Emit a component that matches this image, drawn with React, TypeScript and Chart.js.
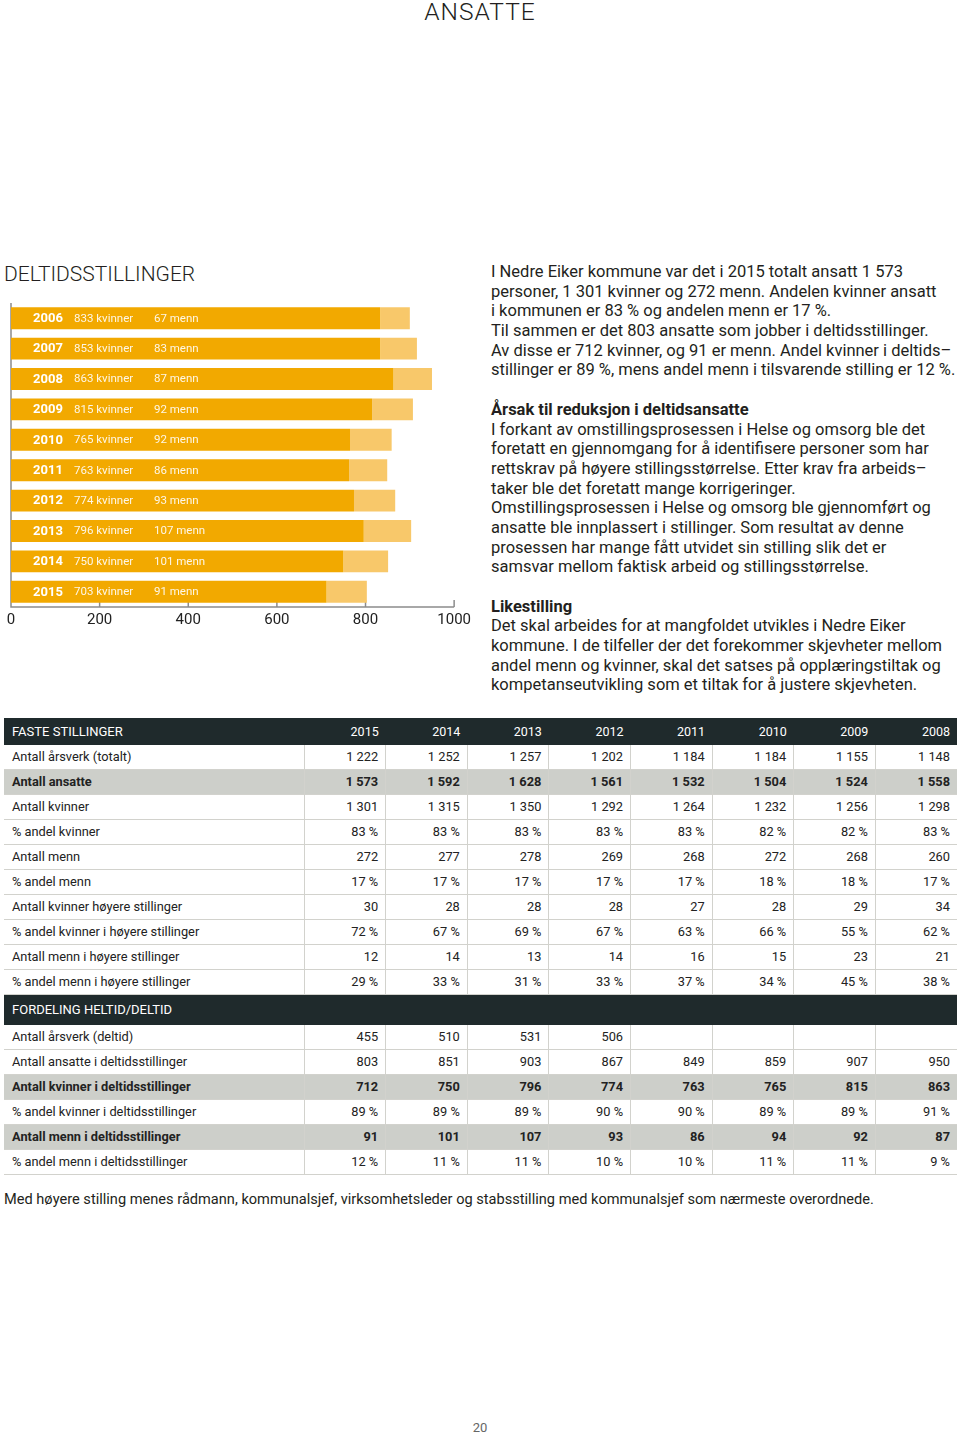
import React, { useEffect, useRef } from 'react';
import { Chart, registerables } from 'chart.js';

Chart.register(...registerables);

// ---------- Chart data ----------
const chartYears = ['2006', '2007', '2008', '2009', '2010', '2011', '2012', '2013', '2014', '2015'];
const womenBar = [833, 833, 863, 815, 765, 763, 774, 796, 750, 712];
const menBar = [67, 83, 87, 92, 94, 86, 93, 107, 101, 91];
const womenLabel = ['833', '853', '863', '815', '765', '763', '774', '796', '750', '703'];
const menLabel = ['67', '83', '87', '92', '92', '86', '93', '107', '101', '91'];
const axisTicks = [200, 400, 600, 800, 1000];

// ---------- Table data ----------
const tableYears = ['2015', '2014', '2013', '2012', '2011', '2010', '2009', '2008'];
const arsverkTotalt = ['1 222', '1 252', '1 257', '1 202', '1 184', '1 184', '1 155', '1 148'];
const antallAnsatte = ['1 573', '1 592', '1 628', '1 561', '1 532', '1 504', '1 524', '1 558'];
const antallKvinner = ['1 301', '1 315', '1 350', '1 292', '1 264', '1 232', '1 256', '1 298'];
const andelKvinner = ['83 %', '83 %', '83 %', '83 %', '83 %', '82 %', '82 %', '83 %'];
const antallMenn = ['272', '277', '278', '269', '268', '272', '268', '260'];
const andelMenn = ['17 %', '17 %', '17 %', '17 %', '17 %', '18 %', '18 %', '17 %'];
const kvinnerHoyere = ['30', '28', '28', '28', '27', '28', '29', '34'];
const andelKvinnerHoyere = ['72 %', '67 %', '69 %', '67 %', '63 %', '66 %', '55 %', '62 %'];
const mennHoyere = ['12', '14', '13', '14', '16', '15', '23', '21'];
const andelMennHoyere = ['29 %', '33 %', '31 %', '33 %', '37 %', '34 %', '45 %', '38 %'];
const arsverkDeltid = ['455', '510', '531', '506', '', '', '', ''];
const ansatteDeltid = ['803', '851', '903', '867', '849', '859', '907', '950'];
const kvinnerDeltid = ['712', '750', '796', '774', '763', '765', '815', '863'];
const andelKvinnerDeltid = ['89 %', '89 %', '89 %', '90 %', '90 %', '89 %', '89 %', '91 %'];
const mennDeltid = ['91', '101', '107', '93', '86', '94', '92', '87'];
const andelMennDeltid = ['12 %', '11 %', '11 %', '10 %', '10 %', '11 %', '11 %', '9 %'];

const FONT = 'Roboto, "Noto Sans", sans-serif';
const WOMEN_COLOR = '#F2A900';
const MEN_COLOR = '#F8C86A';
const AXIS_COLOR = '#8c8c8c';

function BarChart() {
  const ref = useRef<HTMLCanvasElement | null>(null);
  useEffect(() => {
    if (!ref.current) return;
    const decor = {
      id: 'decor',
      beforeDatasetsDraw(chart: any) {
        const { ctx, chartArea, scales } = chart;
        const x = scales.x;
        ctx.save();
        ctx.strokeStyle = AXIS_COLOR;
        ctx.lineWidth = 1.5;
        ctx.beginPath();
        ctx.moveTo(chartArea.left, chartArea.top);
        ctx.lineTo(chartArea.left, chartArea.bottom);
        ctx.lineTo(x.getPixelForValue(1000), chartArea.bottom);
        ctx.stroke();
        axisTicks.forEach((v) => {
          const px = x.getPixelForValue(v);
          ctx.beginPath();
          ctx.moveTo(px, chartArea.bottom);
          ctx.lineTo(px, chartArea.bottom - 7);
          ctx.stroke();
        });
        ctx.restore();
      },
      afterDatasetsDraw(chart: any) {
        const { ctx, chartArea, scales } = chart;
        const y = scales.y;
        ctx.save();
        ctx.textBaseline = 'middle';
        ctx.textAlign = 'left';
        chartYears.forEach((yr, i) => {
          const py = y.getPixelForValue(i) + 0.5;
          ctx.fillStyle = '#ffffff';
          ctx.font = `bold 13px ${FONT}`;
          ctx.fillText(yr, chartArea.left + 22, py);
          ctx.fillStyle = 'rgba(255,255,255,0.9)';
          ctx.font = `11.5px ${FONT}`;
          ctx.fillText(`${womenLabel[i]} kvinner`, chartArea.left + 63, py);
          ctx.fillText(`${menLabel[i]} menn`, chartArea.left + 143, py);
        });
        ctx.restore();
      },
    };
    const chart = new Chart(ref.current, {
      type: 'bar',
      data: {
        labels: chartYears,
        datasets: [
          { label: 'Kvinner', data: womenBar, backgroundColor: WOMEN_COLOR, borderWidth: 0, barPercentage: 0.72, categoryPercentage: 1 },
          { label: 'Menn', data: menBar, backgroundColor: MEN_COLOR, borderWidth: 0, barPercentage: 0.72, categoryPercentage: 1 },
        ],
      },
      options: {
        indexAxis: 'y',
        responsive: false,
        maintainAspectRatio: false,
        animation: false,
        layout: { padding: { left: 11, right: 20, top: 13, bottom: 0 } },
        plugins: { legend: { display: false }, tooltip: { enabled: false } },
        scales: {
          x: {
            stacked: true,
            min: 0,
            max: 1000,
            ticks: {
              stepSize: 200,
              padding: 4,
              color: '#222',
              font: { family: FONT, size: 15 },
              callback: (v: any) => String(v),
            },
            grid: { display: false, drawTicks: false },
            border: { display: false },
            afterFit: (s: any) => { s.height = 23; },
          },
          y: { stacked: true, display: false },
        },
      },
      plugins: [decor],
    } as any);
    return () => chart.destroy();
  }, []);
  return (
    <canvas
      ref={ref}
      width={475}
      height={340}
      style={{ position: 'absolute', left: 0, top: 290, width: 475, height: 340 }}
    />
  );
}

const textLines: { t: string; b?: boolean }[] = [
  { t: 'I Nedre Eiker kommune var det i 2015 totalt ansatt 1 573' },
  { t: 'personer, 1 301 kvinner og 272 menn. Andelen kvinner ansatt' },
  { t: 'i kommunen er 83 % og andelen menn er 17 %.' },
  { t: 'Til sammen er det 803 ansatte som jobber i deltidsstillinger.' },
  { t: 'Av disse er 712 kvinner, og 91 er menn. Andel kvinner i deltids–' },
  { t: 'stillinger er 89 %, mens andel menn i tilsvarende stilling er 12 %.' },
  { t: '' },
  { t: 'Årsak til reduksjon i deltidsansatte', b: true },
  { t: 'I forkant av omstillingsprosessen i Helse og omsorg ble det' },
  { t: 'foretatt en gjennomgang for å identifisere personer som har' },
  { t: 'rettskrav på høyere stillingsstørrelse. Etter krav fra arbeids–' },
  { t: 'taker ble det foretatt mange korrigeringer.' },
  { t: 'Omstillingsprosessen i Helse og omsorg ble gjennomført og' },
  { t: 'ansatte ble innplassert i stillinger. Som resultat av denne' },
  { t: 'prosessen har mange fått utvidet sin stilling slik det er' },
  { t: 'samsvar mellom faktisk arbeid og stillingsstørrelse.' },
  { t: '' },
  { t: 'Likestilling', b: true },
  { t: 'Det skal arbeides for at mangfoldet utvikles i Nedre Eiker' },
  { t: 'kommune. I de tilfeller der det forekommer skjevheter mellom' },
  { t: 'andel menn og kvinner, skal det satses på opplæringstiltak og' },
  { t: 'kompetanseutvikling som et tiltak for å justere skjevheten.' },
];

type Row = { label: string; values: string[]; bold?: boolean };
const section1: Row[] = [
  { label: 'Antall årsverk (totalt)', values: arsverkTotalt },
  { label: 'Antall ansatte', values: antallAnsatte, bold: true },
  { label: 'Antall kvinner', values: antallKvinner },
  { label: '% andel kvinner', values: andelKvinner },
  { label: 'Antall menn', values: antallMenn },
  { label: '% andel menn', values: andelMenn },
  { label: 'Antall kvinner høyere stillinger', values: kvinnerHoyere },
  { label: '% andel kvinner i høyere stillinger', values: andelKvinnerHoyere },
  { label: 'Antall menn i høyere stillinger', values: mennHoyere },
  { label: '% andel menn i høyere stillinger', values: andelMennHoyere },
];
const section2: Row[] = [
  { label: 'Antall årsverk (deltid)', values: arsverkDeltid },
  { label: 'Antall ansatte i deltidsstillinger', values: ansatteDeltid },
  { label: 'Antall kvinner i deltidsstillinger', values: kvinnerDeltid, bold: true },
  { label: '% andel kvinner i deltidsstillinger', values: andelKvinnerDeltid },
  { label: 'Antall menn i deltidsstillinger', values: mennDeltid, bold: true },
  { label: '% andel menn i deltidsstillinger', values: andelMennDeltid },
];

const LINE = '1px solid #d2d2cd';
const DARK = '#1f2a2c';
const GREY = '#cdcfca';

const cellBase: React.CSSProperties = {
  paddingTop: 0,
  paddingBottom: 0,
  lineHeight: '24px',
  whiteSpace: 'nowrap',
  overflow: 'hidden',
};

function DataRows({ rows }: { rows: Row[] }) {
  return (
    <>
      {rows.map((r) => (
        <tr key={r.label} style={{ background: r.bold ? GREY : '#fff', fontWeight: r.bold ? 700 : 400 }}>
          <td style={{ ...cellBase, height: 24, borderBottom: LINE, paddingLeft: 8, paddingRight: 0 }}>{r.label}</td>
          {r.values.map((v, i) => (
            <td key={i} style={{ ...cellBase, height: 24, borderBottom: LINE, borderLeft: LINE, textAlign: 'right', paddingRight: 7, paddingLeft: 0 }}>
              {v}
            </td>
          ))}
        </tr>
      ))}
    </>
  );
}

function StatsTable() {
  return (
    <table
      style={{
        position: 'absolute', left: 4, top: 718, width: 953, borderCollapse: 'collapse', tableLayout: 'fixed',
        fontFamily: FONT, fontSize: 12.8, color: '#222', borderSpacing: 0,
      }}
    >
      <colgroup>
        <col style={{ width: 300 }} />
        {tableYears.map((y) => <col key={y} style={{ width: 81.6 }} />)}
      </colgroup>
      <tbody>
        <tr style={{ background: DARK, color: '#fff' }}>
          <td style={{ ...cellBase, height: 25, lineHeight: '23px', paddingLeft: 8, fontSize: 13 }}>FASTE STILLINGER</td>
          {tableYears.map((y) => (
            <td key={y} style={{ ...cellBase, height: 25, lineHeight: '27px', textAlign: 'right', paddingRight: 7, paddingLeft: 0, fontSize: 12.5 }}>{y}</td>
          ))}
        </tr>
        <DataRows rows={section1} />
        <tr style={{ background: DARK, color: '#fff' }}>
          <td colSpan={9} style={{ ...cellBase, height: 30, lineHeight: '30px', paddingLeft: 8, fontSize: 13 }}>FORDELING HELTID/DELTID</td>
        </tr>
        <DataRows rows={section2} />
      </tbody>
    </table>
  );
}

export default function App() {
  return (
    <div style={{ position: 'absolute', left: 0, top: 0, width: 960, height: 1435, background: '#fff', fontFamily: FONT, color: '#231f20', overflow: 'hidden' }}>
      <div style={{ position: 'absolute', left: 0, top: 0, width: 960, textAlign: 'center', fontSize: 24.5, lineHeight: '24px', fontWeight: 300, letterSpacing: 1 }}>
        ANSATTE
      </div>
      <div style={{ position: 'absolute', left: 4, top: 264, fontSize: 21, lineHeight: '21px', fontWeight: 300, whiteSpace: 'nowrap' }}>
        DELTIDSSTILLINGER
      </div>
      <BarChart />
      <div style={{ position: 'absolute', left: 491, top: 262, fontSize: 16.5, lineHeight: '19.7px' }}>
        {textLines.map((l, i) => (
          <div key={i} style={{ height: 19.7, whiteSpace: 'nowrap', fontWeight: l.b ? 700 : 400 }}>{l.t}</div>
        ))}
      </div>
      <StatsTable />
      <div style={{ position: 'absolute', left: 4, top: 1190, fontSize: 14.6, lineHeight: '18px', whiteSpace: 'nowrap' }}>
        Med høyere stilling menes rådmann, kommunalsjef, virksomhetsleder og stabsstilling med kommunalsjef som nærmeste overordnede.
      </div>
      <div style={{ position: 'absolute', left: 0, top: 1420, width: 960, textAlign: 'center', fontSize: 13, color: '#666' }}>
        20
      </div>
    </div>
  );
}
